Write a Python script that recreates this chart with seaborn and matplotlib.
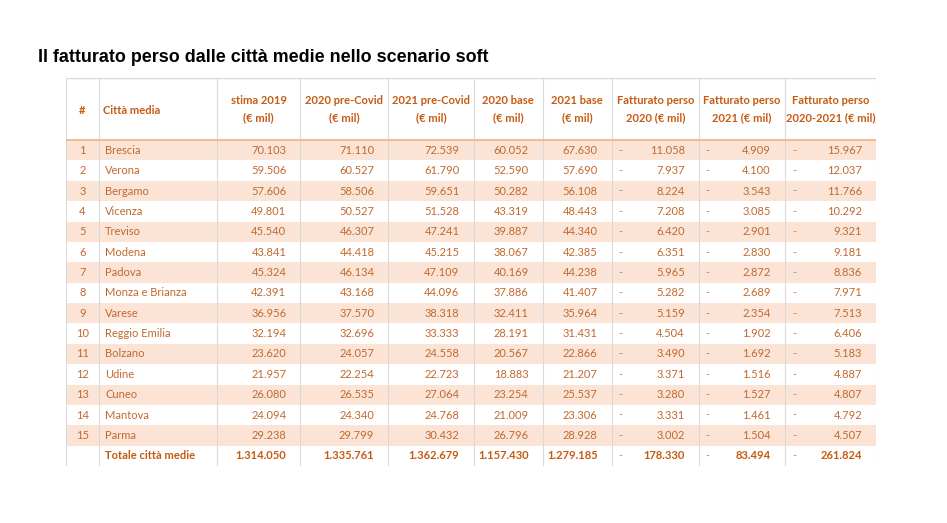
import pandas as pd
import seaborn as sns
import matplotlib
matplotlib.use('Agg')
import matplotlib.pyplot as plt

# Dati della tabella (valori in € mil, ultima voce = totale)
citta = ["Brescia", "Verona", "Bergamo", "Vicenza", "Treviso", "Modena", "Padova",
         "Monza e Brianza", "Varese", "Reggio Emilia", "Bolzano", "Udine", "Cuneo",
         "Mantova", "Parma", "Totale città medie"]
stima_2019 = [70103, 59506, 57606, 49801, 45540, 43841, 45324, 42391, 36956, 32194,
              23620, 21957, 26080, 24094, 29238, 1314050]
pre_covid_2020 = [71110, 60527, 58506, 50527, 46307, 44418, 46134, 43168, 37570, 32696,
                  24057, 22254, 26535, 24340, 29799, 1335761]
pre_covid_2021 = [72539, 61790, 59651, 51528, 47241, 45215, 47109, 44096, 38318, 33333,
                  24558, 22723, 27064, 24768, 30432, 1362679]
base_2020 = [60052, 52590, 50282, 43319, 39887, 38067, 40169, 37886, 32411, 28191,
             20567, 18883, 23254, 21009, 26796, 1157430]
base_2021 = [67630, 57690, 56108, 48443, 44340, 42385, 44238, 41407, 35964, 31431,
             22866, 21207, 25537, 23306, 28928, 1279185]
perso_2020 = [11058, 7937, 8224, 7208, 6420, 6351, 5965, 5282, 5159, 4504,
              3490, 3371, 3280, 3331, 3002, 178330]
perso_2021 = [4909, 4100, 3543, 3085, 2901, 2830, 2872, 2689, 2354, 1902,
              1692, 1516, 1527, 1461, 1504, 83494]
perso_2020_2021 = [15967, 12037, 11766, 10292, 9321, 9181, 8836, 7971, 7513, 6406,
                   5183, 4887, 4807, 4792, 4507, 261824]

intestazioni = ["#", "Città media", "stima 2019\n(€ mil)", "2020 pre-Covid\n(€ mil)",
                "2021 pre-Covid\n(€ mil)", "2020 base\n(€ mil)", "2021 base\n(€ mil)",
                "Fatturato perso\n2020 (€ mil)", "Fatturato perso\n2021 (€ mil)",
                "Fatturato perso\n2020-2021 (€ mil)"]

# layout colonne (pixel dal bordo sinistro della tabella)
bordi = [0, 33, 151, 234, 322, 407, 476, 545, 632, 718, 809]
HEAD_TOP = -3.55

ARANCIO = "#C55A11"
TESTO = "#C0692F"
ROSA = "#FBE4D5"
GRIGIO = "#D9D9D9"

plt.rcParams['font.family'] = ['Lato', 'DejaVu Sans']

fig = plt.figure(figsize=(9.47, 5.23), dpi=100)
ax = fig.add_axes([66 / 947, 1 - 466 / 523, 810 / 947, 388 / 523])

# 1. Righe alternate (sfondo) con seaborn
df = pd.DataFrame({
    "citta": citta,
    "larghezza": [bordi[-1]] * len(citta),
    "fondo": ["rosa" if (i % 2 == 0 and i < 15) else "bianco" for i in range(len(citta))],
})
sns.barplot(data=df, x="larghezza", y="citta", hue="fondo", order=citta,
            palette={"rosa": ROSA, "bianco": "white"}, width=1.0, dodge=False,
            orient="h", linewidth=0, saturation=1, legend=False, ax=ax)

ax.set_xlim(0, bordi[-1])
ax.set_ylim(15.5, HEAD_TOP)
ax.set_axis_off()

# 2. Griglia
ax.vlines(bordi, HEAD_TOP, 15.5, color=GRIGIO, lw=0.8)
ax.hlines(HEAD_TOP, 0, bordi[-1], color=GRIGIO, lw=1.0)
ax.hlines(15.5, 0, bordi[-1], color=GRIGIO, lw=0.6)
ax.hlines(-0.5, 0, bordi[-1], color="#F4B183", lw=1.2)

# 3. Intestazioni
for j, h in enumerate(intestazioni):
    if j == 0:
        ax.text((bordi[0] + bordi[1]) / 2, -1.93, h, ha="center", va="center",
                fontsize=8, fontweight="bold", color=ARANCIO)
    elif j == 1:
        ax.text(bordi[1] + 4, -1.93, h, ha="left", va="center",
                fontsize=8, fontweight="bold", color=ARANCIO)
    else:
        ax.text((bordi[j] + bordi[j + 1]) / 2, -2.03, h, ha="center", va="center",
                fontsize=8, fontweight="bold", color=ARANCIO, linespacing=1.7)

# 4. Celle
colonne = [stima_2019, pre_covid_2020, pre_covid_2021, base_2020, base_2021,
           perso_2020, perso_2021, perso_2020_2021]


def fmt(v):
    return f"{v:,}".replace(",", ".")


for i, nome in enumerate(citta):
    totale = i == len(citta) - 1
    peso = "bold" if totale else "normal"
    col = ARANCIO if totale else TESTO
    if not totale:
        ax.text((bordi[0] + bordi[1]) / 2, i, str(i + 1), ha="center", va="center",
                fontsize=8, color=col)
    ax.text(bordi[1] + 6, i, nome, ha="left", va="center", fontsize=8,
            fontweight=peso, color=col)
    for j, valori in enumerate(colonne):
        destra = bordi[j + 3] - 14
        ax.text(destra, i, fmt(valori[i]), ha="right", va="center", fontsize=8,
                fontweight=peso, color=col)
        if j >= 5:
            ax.text(bordi[j + 2] + 7, i, "-", ha="left", va="center", fontsize=8,
                    color="#B08A70")

# Titolo
fig.text(38 / 947, 1 - 58 / 523, "Il fatturato perso dalle città medie nello scenario soft",
         ha="left", va="center", fontsize=12.9, fontweight="bold",
         family="Liberation Sans", color="black")

fig.savefig("out.png", dpi=100)
